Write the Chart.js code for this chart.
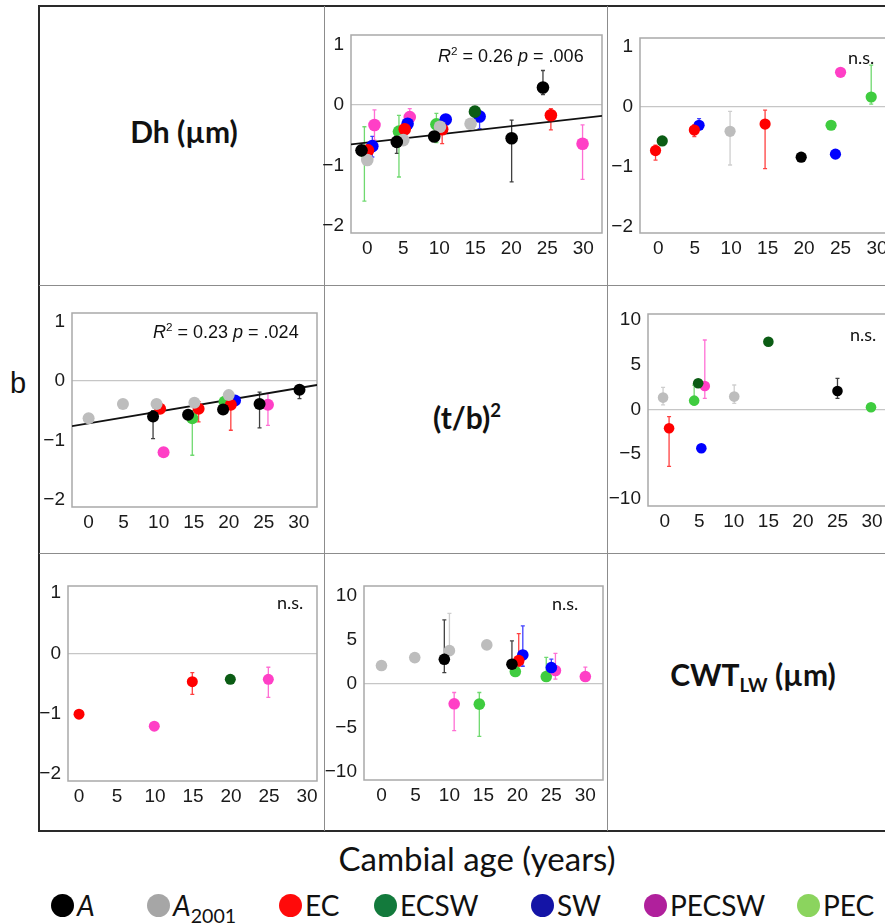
<!DOCTYPE html>
<html><head><meta charset="utf-8">
<script src="https://cdn.jsdelivr.net/npm/chart.js@4.4.1/dist/chart.umd.min.js"></script>
<style>
html,body{margin:0;padding:0;background:#fff;}
body{width:885px;height:923px;position:relative;overflow:hidden;}
.hl{position:absolute;background:#8c8c8c;height:1px;}
.vl{position:absolute;background:#8c8c8c;width:1px;}
.bord{position:absolute;background:#2a2a2a;}
.lbl{position:absolute;font-family:Lato,'Noto Sans',sans-serif;font-weight:700;font-size:30px;color:#111;transform:translate(-50%,-50%);white-space:nowrap;}
.lbl sup{font-size:0.62em;vertical-align:0.62em;line-height:0;}
.lbl sub{font-size:0.62em;vertical-align:-0.3em;line-height:0;}
.ann{position:absolute;font-family:'Liberation Sans',Arial,sans-serif;font-size:18px;color:#111;white-space:nowrap;transform:translateY(-50%);}
.ann sup{font-size:0.65em;vertical-align:0.55em;line-height:0;}
.ns{position:absolute;font-family:Lato,'Noto Sans',sans-serif;font-size:18px;color:#111;white-space:nowrap;transform:translateY(-50%);}
.cv{position:absolute;}
.big{position:absolute;font-family:Lato,'Noto Sans',sans-serif;font-size:33px;color:#111;white-space:nowrap;transform:translate(-50%,-50%);}
.leg{position:absolute;top:905px;transform:translateY(-50%);display:flex;align-items:center;font-family:Lato,'Noto Sans',sans-serif;font-size:28px;color:#111;white-space:nowrap;}
.leg .dot{width:23px;height:23px;border-radius:50%;margin-right:3px;}
.leg sub{font-size:0.7em;vertical-align:-0.35em;line-height:0;}
</style></head><body>

<script>
// ---------- groups ----------
const groups = ['A','A2001','EC','ECSW','SW','PECSW','PEC'];
const plotColors = ['#000000','#bdbdbd','#ff0000','#0b5c14','#0000ff','#ff3fc6','#3fcc3f'];
const legendColors = ['#000000','#a6a6a6','#ff0a0a','#137a3c','#1414a6','#b0209c','#8bd45e'];
const xTickValues = [0,5,10,15,20,25,30];
const yTicksNarrow = [-2,-1,0,1];
const yTicksWide = [-10,-5,0,5,10];

// ---------- panel 1 : row 1, col 2 ----------
const p1Group = ['A','PEC','EC','A2001','SW','PECSW','A','A2001','PEC','EC','SW','PECSW','A','PEC','A2001','EC','SW','A2001','ECSW','SW','A','A','EC','PECSW'];
const p1Age   = [-0.8,-0.4,0.1,0.0,0.7,1.0,4.1,5.0,4.4,5.2,5.6,5.9,9.3,9.6,10.1,10.4,10.9,14.35,14.95,15.6,20.05,24.4,25.5,29.9];
const p1Value = [-0.75,-0.77,-0.75,-0.91,-0.68,-0.33,-0.61,-0.58,-0.44,-0.40,-0.31,-0.20,-0.52,-0.32,-0.36,-0.40,-0.24,-0.31,-0.11,-0.19,-0.55,0.29,-0.17,-0.64];
const p1Low   = [null,-1.59,null,null,-0.86,-0.58,-0.80,null,-1.19,null,null,-0.30,null,-0.62,null,-0.64,null,null,null,-0.39,-1.27,0.17,-0.41,-1.23];
const p1High  = [null,-0.36,null,null,-0.52,-0.08,-0.45,null,-0.17,null,null,-0.06,null,-0.14,null,-0.30,null,null,null,-0.10,-0.25,0.57,-0.06,-0.33];
const p1TrendAge = [-2.26,32.6];
const p1TrendValue = [-0.65,-0.18];

// ---------- panel 2 : row 1, col 3 ----------
const p2Group = ['EC','ECSW','EC','SW','A2001','EC','A','PEC','SW','PECSW','PEC'];
const p2Age   = [-0.37,0.55,4.95,5.6,9.85,14.65,19.6,23.7,24.3,25.0,29.2];
const p2Value = [-0.73,-0.57,-0.39,-0.31,-0.41,-0.29,-0.84,-0.31,-0.79,0.57,0.16];
const p2Low   = [-0.89,null,-0.50,-0.38,-0.97,-1.03,null,null,null,null,0.04];
const p2High  = [-0.64,null,-0.30,-0.20,-0.08,-0.06,null,null,null,null,0.69];

// ---------- panel 3 : row 2, col 1 ----------
const p3Group = ['A2001','A2001','A','A2001','EC','PECSW','A','A2001','EC','PEC','A','PEC','A2001','EC','SW','A','PECSW','A'];
const p3Age   = [0.0,4.9,9.2,9.7,10.2,10.7,14.2,15.1,15.7,14.8,19.2,19.4,20.0,20.3,20.9,24.4,25.6,30.1];
const p3Value = [-0.63,-0.39,-0.60,-0.39,-0.47,-1.20,-0.57,-0.37,-0.47,-0.63,-0.48,-0.35,-0.24,-0.40,-0.33,-0.39,-0.40,-0.15];
const p3Low   = [null,null,-0.97,null,null,null,null,null,-0.69,-1.25,null,null,null,-0.83,null,-0.79,-0.75,-0.30];
const p3High  = [null,null,-0.50,null,null,null,null,null,-0.35,-0.50,null,null,null,-0.30,null,-0.19,-0.21,-0.08];
const p3TrendAge = [-2.37,32.6];
const p3TrendValue = [-0.76,-0.07];

// ---------- panel 4 : row 2, col 3 ----------
const p4Group = ['A2001','EC','PEC','ECSW','PECSW','SW','A2001','ECSW','A','PEC'];
const p4Age   = [-0.24,0.63,4.26,4.84,5.8,5.3,10.06,15.0,25.0,29.85];
const p4Value = [1.31,-2.13,0.97,2.91,2.61,-4.37,1.42,7.57,2.05,0.22];
const p4Low   = [0.50,-6.40,0.50,null,1.23,null,0.67,null,1.23,null];
const p4High  = [2.46,-0.82,2.70,null,7.76,null,2.72,null,3.47,null];

// ---------- panel 5 : row 3, col 1 ----------
const p5Group = ['EC','PECSW','EC','ECSW','PECSW'];
const p5Age   = [0.0,9.9,14.9,19.9,24.9];
const p5Value = [-1.01,-1.21,-0.47,-0.43,-0.43];
const p5Low   = [null,null,-0.68,null,-0.73];
const p5High  = [null,null,-0.32,null,-0.23];

// ---------- panel 6 : row 3, col 2 ----------
const p6Group = ['A2001','A2001','A','A2001','PECSW','A2001','PEC','A','PEC','EC','SW','PEC','SW','PECSW','PECSW'];
const p6Age   = [0.0,4.9,9.25,10.0,10.7,15.5,14.4,19.2,19.7,20.2,20.8,24.25,25.0,25.6,30.0];
const p6Value = [2.08,2.98,2.79,3.77,-2.26,4.42,-2.30,2.23,1.40,2.64,3.28,0.83,1.85,1.51,0.83];
const p6Low   = [null,null,1.28,3.77,-5.30,null,-5.96,2.23,null,2.00,2.00,0.83,1.85,0.53,0.83];
const p6High  = [null,null,7.25,8.00,-0.98,null,-0.98,4.87,null,5.70,6.57,3.00,2.80,3.47,1.89];
</script>

<!-- frame -->
<div class="bord" style="left:38px;top:5px;width:850px;height:2px;"></div>
<div class="bord" style="left:38px;top:5px;width:2px;height:827px;"></div>
<div class="bord" style="left:38px;top:830px;width:850px;height:2px;"></div>
<div class="vl" style="left:324px;top:6px;height:825px;"></div>
<div class="vl" style="left:607px;top:6px;height:825px;"></div>
<div class="hl" style="left:39px;top:285px;width:850px;"></div>
<div class="hl" style="left:39px;top:553px;width:850px;"></div>

<div class="lbl" style="left:184px;top:131px;">Dh (µm)</div>
<div class="lbl" style="left:467px;top:417px;">(t/b)<sup>2</sup></div>
<div class="lbl" style="left:753px;top:674px;">CWT<sub>LW</sub> (µm)</div>
<div class="big" style="left:18px;top:383px;font-family:'Liberation Sans',Arial,sans-serif;font-size:29px;">b</div>
<div class="big" style="left:477px;top:858px;">Cambial age (years)</div>

<div id="charts"></div>

<div class="ann" style="left:438px;top:56px;"><i>R</i><sup>2</sup> = 0.26 <i>p</i> = .006</div>
<div class="ann" style="left:153px;top:332px;"><i>R</i><sup>2</sup> = 0.23 <i>p</i> = .024</div>
<div class="ns" style="left:848px;top:57px;">n.s.</div>
<div class="ns" style="left:850px;top:334px;">n.s.</div>
<div class="ns" style="left:277px;top:602px;">n.s.</div>
<div class="ns" style="left:552px;top:603px;">n.s.</div>

<div id="legend"></div>

<script>
const WY = 45, HX = 35, PT = 22, PR = 12;

function fmt(v){ return v < 0 ? '\u2212' + Math.abs(v) : String(v); }
function hexA(hex, a){
  const n = parseInt(hex.slice(1),16);
  return 'rgba(' + ((n>>16)&255) + ',' + ((n>>8)&255) + ',' + (n&255) + ',' + a + ')';
}

const errorBarPlugin = {
  id:'errbars',
  beforeDatasetsDraw(chart){
    const {ctx, chartArea} = chart;
    const xs = chart.scales.x, ys = chart.scales.y;
    ctx.save();
    ctx.strokeStyle = '#a9a9a9';
    ctx.lineWidth = 1.5;
    ctx.strokeRect(chartArea.left, chartArea.top, chartArea.width, chartArea.height);
    ctx.beginPath(); ctx.rect(chartArea.left, chartArea.top, chartArea.width, chartArea.height); ctx.clip();
    chart.data.datasets.forEach(ds => {
      if (!ds.errs) return;
      ctx.strokeStyle = ds.errColor;
      ctx.lineWidth = 1.3;
      ds.data.forEach((p, i) => {
        const e = ds.errs[i];
        if (!e || e[0] === null) return;
        const px = xs.getPixelForValue(p.x);
        const y1 = ys.getPixelForValue(e[0]), y2 = ys.getPixelForValue(e[1]);
        ctx.beginPath();
        ctx.moveTo(px, y1); ctx.lineTo(px, y2);
        ctx.moveTo(px-2, y1); ctx.lineTo(px+2, y1);
        ctx.moveTo(px-2, y2); ctx.lineTo(px+2, y2);
        ctx.stroke();
      });
    });
    ctx.restore();
  }
};

function buildDatasets(grp, age, val, lo, hi, radius){
  const out = [];
  groups.forEach((g, gi) => {
    const idx = [];
    grp.forEach((v, i) => { if (v === g) idx.push(i); });
    if (!idx.length) return;
    out.push({
      label: g,
      data: idx.map(i => ({x: age[i], y: val[i]})),
      errs: idx.map(i => [lo[i], hi[i]]),
      errColor: hexA(plotColors[gi], 0.75),
      backgroundColor: plotColors[gi],
      borderColor: plotColors[gi],
      pointBackgroundColor: plotColors[gi],
      pointBorderColor: plotColors[gi],
      pointBorderWidth: 0,
      pointRadius: radius,
      pointHoverRadius: radius,
      order: 0
    });
  });
  return out;
}

function makePanel(box, xr, yr, yTicks, sets, trendAge, trendVal){
  const c = document.createElement('canvas');
  const w = (box.R - box.L) + WY + PR, h = (box.B - box.T) + PT + HX;
  c.width = w; c.height = h;
  c.className = 'cv';
  c.style.left = (box.L - WY) + 'px';
  c.style.top = (box.T - PT) + 'px';
  c.style.width = w + 'px'; c.style.height = h + 'px';
  document.getElementById('charts').appendChild(c);
  const datasets = sets.slice();
  if (trendAge){
    datasets.push({
      label:'trend', showLine:true, pointRadius:0, borderColor:'#111', borderWidth:1.8,
      data: trendAge.map((a, i) => ({x:a, y:trendVal[i]})), order: 5
    });
  }
  const tickFont = {family:"'Liberation Sans', Arial, sans-serif", size:19};
  new Chart(c, {
    type:'scatter',
    data:{datasets},
    options:{
      responsive:false, animation:false, devicePixelRatio:1,
      layout:{padding:{top:PT, right:PR, left:0, bottom:0}},
      plugins:{legend:{display:false}, tooltip:{enabled:false}},
      scales:{
        x:{
          type:'linear', min:xr[0], max:xr[1],
          afterBuildTicks: s => { s.ticks = xTickValues.map(v => ({value:v})); },
          afterFit: s => { s.height = HX; },
          grid:{display:false, drawTicks:false},
          border:{display:false},
          ticks:{font:tickFont, color:'#1a1a1a', padding:4, maxRotation:0, autoSkip:false, callback: v => fmt(v)}
        },
        y:{
          type:'linear', min:yr[0], max:yr[1],
          afterBuildTicks: s => { s.ticks = yTicks.map(v => ({value:v})); },
          afterFit: s => { s.width = WY; },
          grid:{drawTicks:false, lineWidth:1.2, color: ctx => (ctx.tick && ctx.tick.value === 0) ? '#c6c6c6' : 'rgba(0,0,0,0)'},
          border:{display:false},
          ticks:{font:tickFont, color:'#1a1a1a', padding:7, autoSkip:false, callback: v => fmt(v)}
        }
      }
    },
    plugins:[errorBarPlugin]
  });
}

makePanel({L:351,T:35,R:602,B:233}, [-2.26,32.6], [-2.116,1.157], yTicksNarrow,
  buildDatasets(p1Group,p1Age,p1Value,p1Low,p1High,6.3), p1TrendAge, p1TrendValue);
makePanel({L:640,T:38,R:896,B:233}, [-2.5,32.6], [-2.1,1.14], yTicksNarrow,
  buildDatasets(p2Group,p2Age,p2Value,p2Low,p2High,5.6));
makePanel({L:72,T:313,R:317,B:507}, [-2.37,32.6], [-2.12,1.14], yTicksNarrow,
  buildDatasets(p3Group,p3Age,p3Value,p3Low,p3High,6.0), p3TrendAge, p3TrendValue);
makePanel({L:648,T:314,R:890,B:506}, [-2.42,32.6], [-10.83,10.67], yTicksWide,
  buildDatasets(p4Group,p4Age,p4Value,p4Low,p4High,5.3));
makePanel({L:68,T:586,R:317,B:781}, [-1.45,31.3], [-2.12,1.12], yTicksNarrow,
  buildDatasets(p5Group,p5Age,p5Value,p5Low,p5High,5.5));
makePanel({L:364,T:586,R:603,B:780}, [-2.57,32.6], [-10.9,11.1], yTicksWide,
  buildDatasets(p6Group,p6Age,p6Value,p6Low,p6High,5.8));

// legend
const legendLabels = ['<i>A</i>','<i>A</i><sub>2001</sub>','EC','ECSW','SW','PECSW','PEC'];
const legendDotX = [62,158,290,385,542,655,808];
const lg = document.getElementById('legend');
groups.forEach((g, i) => {
  const d = document.createElement('div');
  d.className = 'leg';
  d.style.left = (legendDotX[i] - 11) + 'px';
  d.innerHTML = '<span class="dot" style="background:' + legendColors[i] + '"></span><span>' + legendLabels[i] + '</span>';
  lg.appendChild(d);
});
</script>
</body></html>
